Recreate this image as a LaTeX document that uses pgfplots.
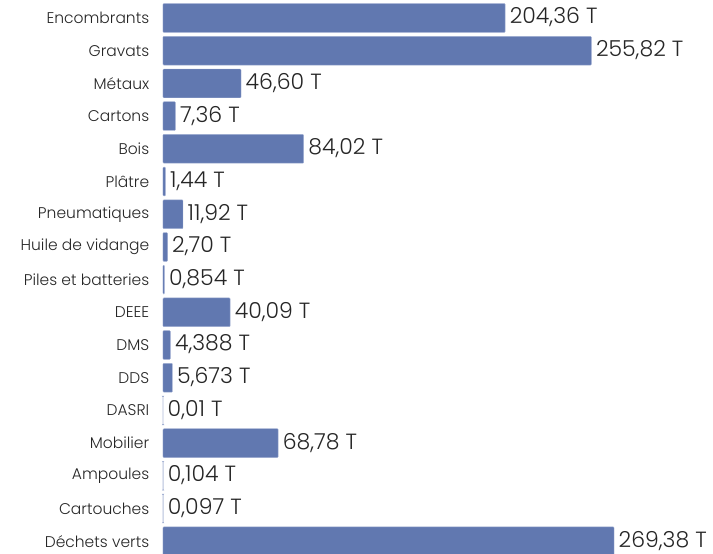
\documentclass[border=0pt]{standalone}
\usepackage{fontspec}
\setmainfont{Poppins}[UprightFont=* Light]
\usepackage{pgfplots}
\pgfplotsset{compat=1.18}
\definecolor{barfill}{RGB}{97,120,176}
\definecolor{barline}{RGB}{160,174,210}
\definecolor{txt}{RGB}{38,38,38}
\begin{document}
\begin{tikzpicture}
\begin{axis}[
  at={(163pt,554pt)}, anchor=north west,
  scale only axis, width=550pt, height=554pt,
  xmin=0, xmax=328.5, ymin=-0.55, ymax=16.39,
  y dir=reverse,
  xbar, bar width=0.88,
  clip=false,
  axis line style={draw=none},
  tick style={draw=none},
  xtick=\empty,
  ytick={0,...,16},
  yticklabels={Encombrants, Gravats, Métaux, Cartons, Bois, Plâtre, Pneumatiques, Huile de vidange, Piles et batteries, DEEE, DMS, DDS, DASRI, Mobilier, Ampoules, Cartouches, Déchets verts},
  yticklabel style={font=\fontsize{15.5}{17}\selectfont, text=txt, xshift=-6pt},
  nodes near coords,
  point meta=explicit symbolic,
  every node near coord/.append style={font=\fontsize{22}{26}\selectfont, text=txt, anchor=west, inner xsep=4.5pt, yshift=0.5pt},
]
\addplot[fill=barfill, draw=barline, line width=0.4pt, rounded corners=0.8pt] coordinates {
  (204.36,0) [204,36 T]
  (255.82,1) [255,82 T]
  (46.60,2) [46,60 T]
  (7.36,3) [7,36 T]
  (84.02,4) [84,02 T]
  (1.44,5) [1,44 T]
  (11.92,6) [11,92 T]
  (2.70,7) [2,70 T]
  (0.854,8) [0,854 T]
  (40.09,9) [40,09 T]
  (4.388,10) [4,388 T]
  (5.673,11) [5,673 T]
  (0.01,12) [0,01 T]
  (68.78,13) [68,78 T]
  (0.104,14) [0,104 T]
  (0.097,15) [0,097 T]
  (269.38,16) [269,38 T]
};
\end{axis}
\pgfresetboundingbox
\path (0,0) rectangle (713pt,554pt);
\end{tikzpicture}
\end{document}
